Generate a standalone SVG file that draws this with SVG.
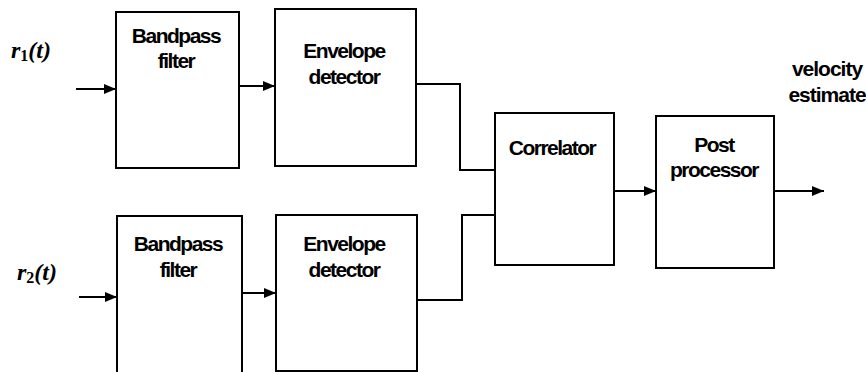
<svg xmlns="http://www.w3.org/2000/svg" width="866" height="372" viewBox="0 0 866 372">
<style>
.box{fill:#fff;stroke:#000;stroke-width:2}
.ln{fill:none;stroke:#000;stroke-width:2}
.t{font-family:"Liberation Sans",Arial,sans-serif;font-weight:bold;font-size:21px;letter-spacing:-1.5px;text-anchor:middle;fill:#000}
.m{font-family:"Liberation Serif","Times New Roman",serif;font-style:italic;font-weight:bold;font-size:24px;fill:#000}
.s{font-style:normal;font-size:16px}
</style>
<defs>
<marker id="ah" markerWidth="12" markerHeight="10" refX="12" refY="5" orient="auto" markerUnits="userSpaceOnUse">
<path d="M0,0 L12,5 L0,10 Z" fill="#000"/>
</marker>
</defs>
<rect width="866" height="372" fill="#fff"/>
<g id="bp1"><rect class="box" x="116" y="12" width="123" height="156"/><text class="t" x="176" y="43">Bandpass</text><text class="t" x="176" y="68">filter</text></g>
<g id="env1"><rect class="box" x="275" y="9" width="141" height="157"/><text class="t" x="344" y="58">Envelope</text><text class="t" x="344" y="84">detector</text></g>
<g id="bp2"><rect class="box" x="117" y="216" width="125" height="160"/><text class="t" x="178" y="251">Bandpass</text><text class="t" x="178" y="277">filter</text></g>
<g id="env2"><rect class="box" x="276" y="215" width="141" height="156"/><text class="t" x="344" y="251">Envelope</text><text class="t" x="344" y="277">detector</text></g>
<g id="corr"><rect class="box" x="495" y="113" width="119" height="152"/><text class="t" x="552" y="155">Correlator</text></g>
<g id="post"><rect class="box" x="656" y="116" width="118" height="152"/><text class="t" x="714" y="152">Post</text><text class="t" x="714" y="177">processor</text></g>
<g id="labels">
<text class="m" x="11" y="58">r<tspan class="s" dy="3">1</tspan><tspan dy="-3">(t)</tspan></text>
<text class="m" x="17" y="280">r<tspan class="s" dy="3">2</tspan><tspan dy="-3">(t)</tspan></text>
<text class="t" x="827" y="76" style="letter-spacing:-1px">velocity</text>
<text class="t" x="827" y="102" style="letter-spacing:-1px">estimate</text>
</g>
<g id="connectors">
<line class="ln" x1="76" y1="89" x2="116" y2="89" marker-end="url(#ah)"/>
<line class="ln" x1="79" y1="297" x2="117" y2="297" marker-end="url(#ah)"/>
<line class="ln" x1="239" y1="86" x2="275" y2="86" marker-end="url(#ah)"/>
<line class="ln" x1="242" y1="293" x2="276" y2="293" marker-end="url(#ah)"/>
<polyline class="ln" points="416,84 460,84 460,170 495,170"/>
<polyline class="ln" points="417,300 462,300 462,215 495,215"/>
<line class="ln" x1="614" y1="191" x2="656" y2="191" marker-end="url(#ah)"/>
<line class="ln" x1="774" y1="191" x2="824" y2="191" marker-end="url(#ah)"/>
</g>
</svg>
